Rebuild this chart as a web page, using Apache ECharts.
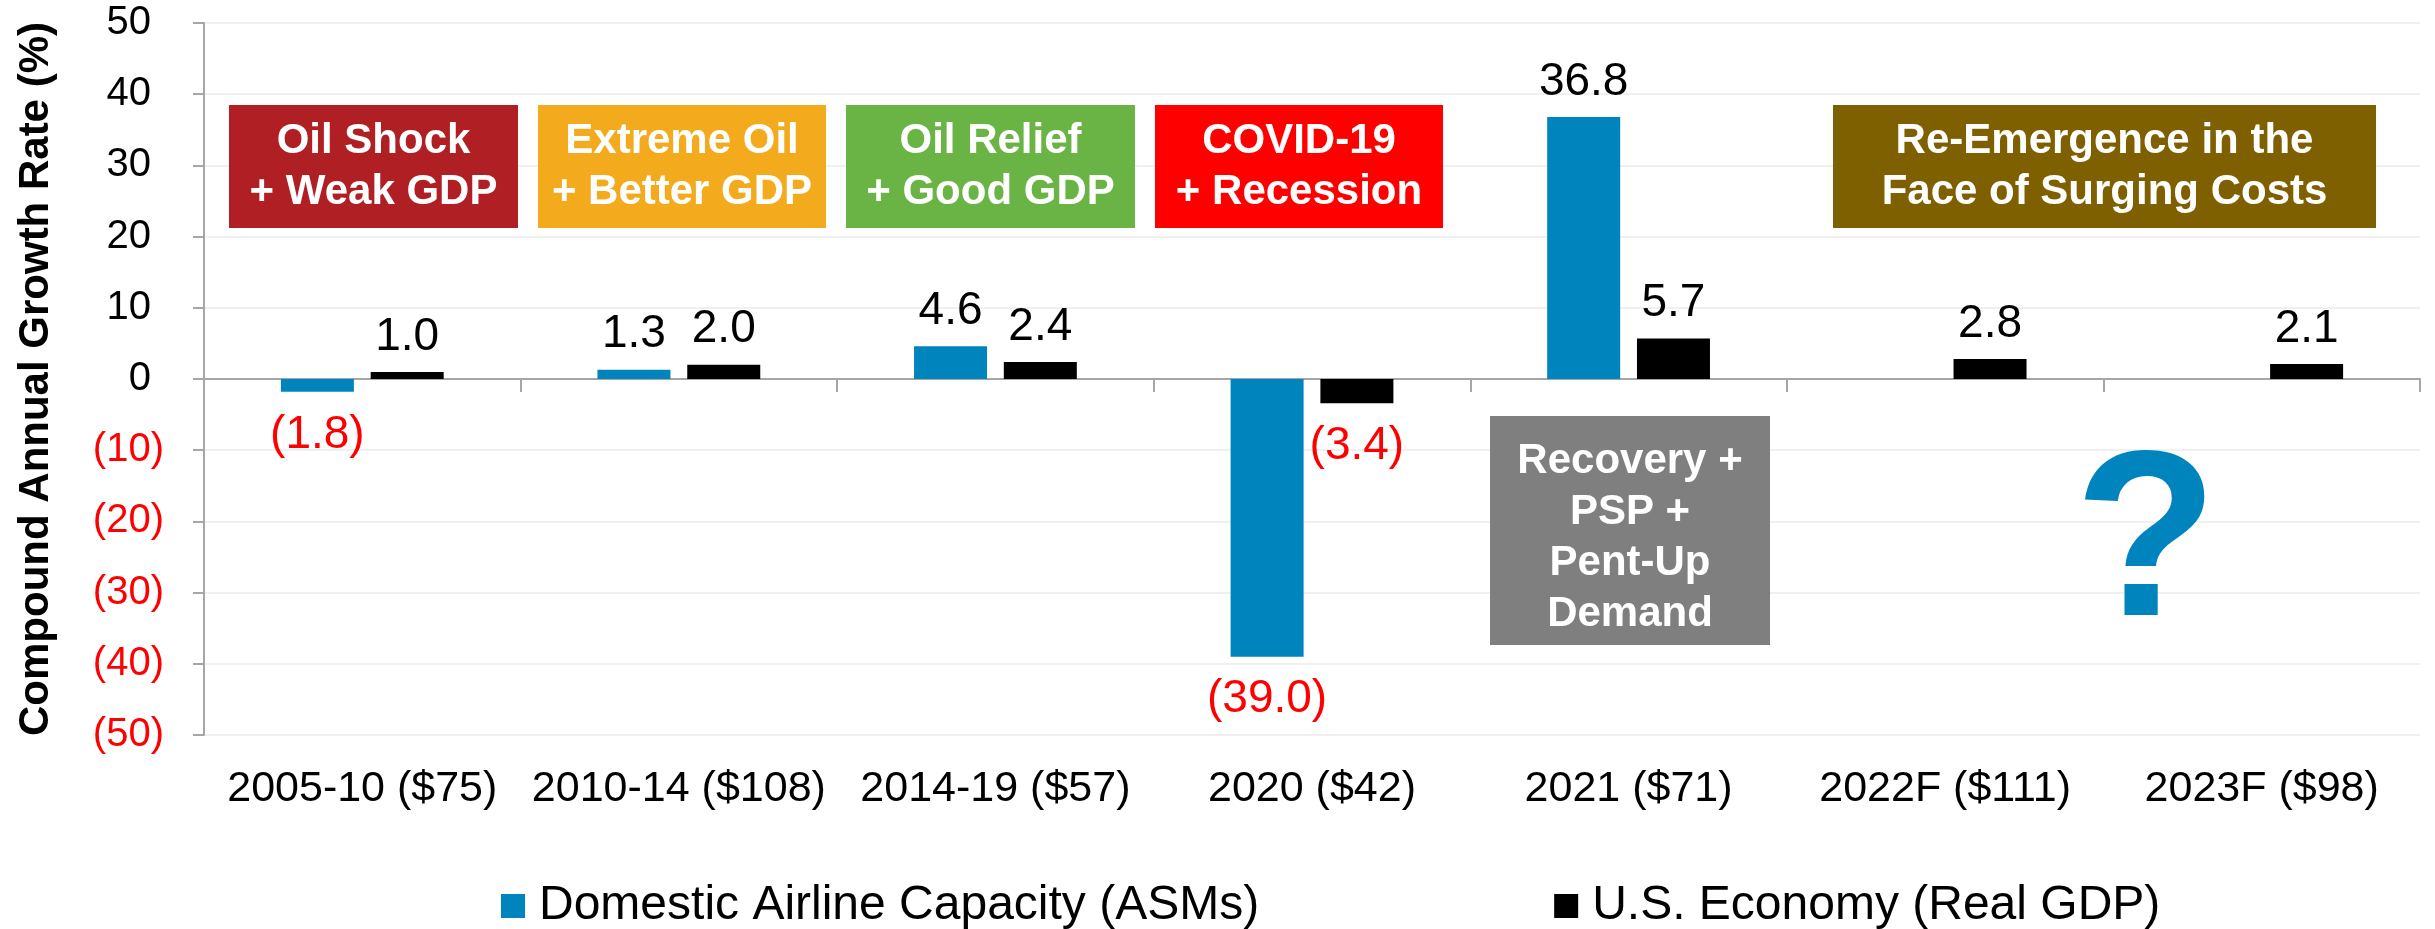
<!DOCTYPE html>
<html>
<head>
    <meta charset="UTF-8">
    <title>Airline capacity vs GDP</title>
    <script src="https://cdn.jsdelivr.net/npm/echarts@6/dist/echarts.min.js"></script>
    <style>
        html, body { margin: 0; padding: 0; background: #fff; }
        #chart { width: 2435px; height: 929px; }
    </style>
</head>
<body>
<div id="chart"></div>
<script>
    // data
    var categories = ['2005-10 ($75)', '2010-14 ($108)', '2014-19 ($57)', '2020 ($42)', '2021 ($71)', '2022F ($111)', '2023F ($98)'];
    var capacity = [-1.8, 1.3, 4.6, -39.0, 36.8, null, null];
    var gdp = [1.0, 2.0, 2.4, -3.4, 5.7, 2.8, 2.1];
    var seriesNames = ['Domestic Airline Capacity (ASMs)', 'U.S. Economy (Real GDP)'];

    var FONT = '"Liberation Sans", Arial, sans-serif';
    var BLUE = '#0084BD';
    var RED = '#FF0000';

    function fmt(v) {
        return v < 0 ? '(' + Math.abs(v).toFixed(1) + ')' : v.toFixed(1);
    }

    // negative bars get the red label underneath
    function toItems(arr) {
        return arr.map(function (v) {
            if (v === null) return null;
            if (v < 0) {
                return { value: v, label: { position: 'bottom', color: RED, distance: 20 } };
            }
            return v;
        });
    }

    // coloured annotation box with white bold text
    function box(x, y, w, h, color, text, dy) {
        return {
            type: 'group',
            z: 100,
            children: [{
                type: 'rect',
                z: 100,
                shape: { x: x, y: y, width: w, height: h },
                style: { fill: color }
            }, {
                type: 'text',
                z: 101,
                x: x + w / 2,
                y: y + h / 2 + (dy || 0),
                style: {
                    text: text,
                    fill: '#fff',
                    fontSize: 42,
                    fontWeight: 'bold',
                    fontFamily: FONT,
                    align: 'center',
                    verticalAlign: 'middle',
                    lineHeight: 51
                }
            }]
        };
    }

    var chart = echarts.init(document.getElementById('chart'), null, { renderer: 'canvas' });

    var barLabel = {
        show: true, position: 'top', distance: 12,
        fontSize: 46, color: '#000', fontFamily: FONT,
        formatter: function (p) { return fmt(p.value); }
    };

    var option = {
        animation: false,
        backgroundColor: '#fff',
        textStyle: { fontFamily: FONT },
        grid: { left: 204, right: 15, top: 23, bottom: 194, containLabel: false },
        legend: {
            left: 496,
            top: 877,
            icon: 'rect',
            itemWidth: 24,
            itemHeight: 24,
            itemGap: 295,
            textStyle: { fontSize: 48, color: '#000', fontFamily: FONT, padding: [0, 0, 0, 9] },
            data: seriesNames
        },
        xAxis: [{
            type: 'category',
            data: categories,
            axisLine: { onZero: true, lineStyle: { color: '#A6A6A6', width: 2 } },
            axisTick: { show: true, length: 13, lineStyle: { color: '#A6A6A6', width: 2 } },
            axisLabel: { show: false },
            splitLine: { show: false }
        }, {
            type: 'category',
            data: categories,
            position: 'bottom',
            axisLine: { show: false, onZero: false },
            axisTick: { show: false },
            axisLabel: { interval: 0, margin: 33, fontSize: 43, color: '#000', fontFamily: FONT },
            splitLine: { show: false }
        }],
        yAxis: {
            type: 'value',
            min: -50,
            max: 50,
            interval: 10,
            name: 'Compound Annual Growth Rate (%)',
            nameLocation: 'middle',
            nameGap: 147,
            nameTextStyle: { fontSize: 42, fontWeight: 'bold', color: '#000', fontFamily: FONT },
            axisLine: { show: true, lineStyle: { color: '#A6A6A6', width: 2 } },
            axisTick: { show: true, length: 11, lineStyle: { color: '#A6A6A6', width: 2 } },
            splitLine: { lineStyle: { color: '#F0F0F0', width: 2 } },
            axisLabel: {
                margin: 40,
                formatter: function (v) {
                    return v < 0 ? '{n|(' + (-v) + ')}' : '{p|' + v + '}';
                },
                rich: {
                    p: { fontSize: 40, color: '#000', fontFamily: FONT, padding: [0, 13, 0, 0] },
                    n: { fontSize: 40, color: RED, fontFamily: FONT }
                }
            }
        },
        series: [{
            name: seriesNames[0],
            type: 'bar',
            xAxisIndex: 0,
            data: toItems(capacity),
            barWidth: 73,
            barGap: '23%',
            itemStyle: { color: BLUE },
            label: barLabel
        }, {
            name: seriesNames[1],
            type: 'bar',
            xAxisIndex: 0,
            data: toItems(gdp),
            barWidth: 73,
            barGap: '23%',
            itemStyle: { color: '#000' },
            label: barLabel
        }],
        graphic: [
            box(229, 105, 289, 123, '#B01F24', 'Oil Shock\n+ Weak GDP'),
            box(538, 105, 288, 123, '#F3AB1D', 'Extreme Oil\n+ Better GDP'),
            box(846, 105, 289, 123, '#6AB445', 'Oil Relief\n+ Good GDP'),
            box(1155, 105, 288, 123, '#FF0000', 'COVID-19\n+ Recession'),
            box(1833, 105, 543, 123, '#7F6000', 'Re-Emergence in the\nFace of Surging Costs'),
            box(1490, 416, 280, 229, '#7F7F7F', 'Recovery +\nPSP +\nPent-Up\nDemand', 7),
            {
                type: 'text',
                x: 2146,
                y: 550,
                style: {
                    text: '?',
                    fill: BLUE,
                    fontSize: 235,
                    fontWeight: 'bold',
                    fontFamily: FONT,
                    align: 'center',
                    verticalAlign: 'middle'
                },
                z: 100
            }
        ]
    };

    chart.setOption(option);
</script>
</body>
</html>
